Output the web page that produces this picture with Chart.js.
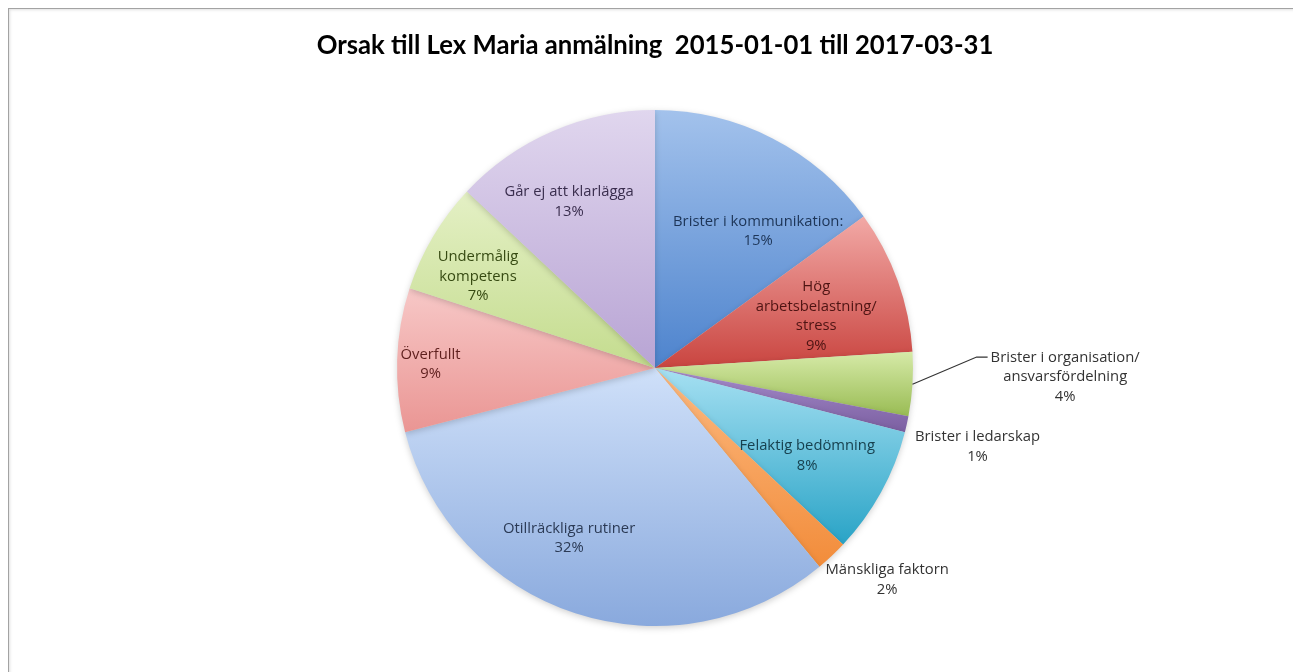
<!DOCTYPE html>
<html>
<head>
<meta charset="utf-8">
<script src="https://cdn.jsdelivr.net/npm/chart.js@4/dist/chart.umd.min.js"></script>
<style>
  html, body { margin: 0; padding: 0; background: #fff; overflow: hidden; }
  #frame {
    position: absolute; left: 8px; top: 8px; width: 1400px; height: 800px;
    border: 1px solid #a3a3a3;
    box-shadow: inset 1px 1px 3px rgba(0, 0, 0, 0.12);
  }
  #wrap { position: absolute; left: 0; top: 0; width: 1293px; height: 672px; }
</style>
</head>
<body>
<div id="frame"></div>
<div id="wrap"><canvas id="lexmaria" width="1293" height="672"></canvas></div>
<script>
const categories = [
  "Brister i kommunikation:",
  "Hög arbetsbelastning/ stress",
  "Brister i organisation/ ansvarsfördelning",
  "Brister i ledarskap",
  "Felaktig bedömning",
  "Mänskliga faktorn",
  "Otillräckliga rutiner",
  "Överfullt",
  "Undermålig kompetens",
  "Går ej att klarlägga"
];
const shares = [15, 9, 4, 1, 8, 2, 32, 9, 7, 13];

// label text split into lines as drawn
const labelLines = [
  ["Brister i kommunikation:"],
  ["Hög", "arbetsbelastning/", "stress"],
  ["Brister i organisation/", "ansvarsfördelning"],
  ["Brister i ledarskap"],
  ["Felaktig bedömning"],
  ["Mänskliga faktorn"],
  ["Otillräckliga rutiner"],
  ["Överfullt"],
  ["Undermålig", "kompetens"],
  ["Går ej att klarlägga"]
];

// gradient stops per slice: top (light) -> bottom (dark)
const lightColors = ["#a3c2ec", "#f2a9a6", "#d6eaa8", "#a68ccb", "#a6e0f2", "#fcb980", "#cfe0f9", "#f7c8c7", "#e4f0c5", "#e0d6ee"];
const darkColors  = ["#4d83cd", "#c9443f", "#98bb52", "#7a5ea0", "#28a3c6", "#f28c3a", "#89a9dd", "#ea9593", "#c4dc8e", "#b8a4d4"];
const textColors  = ["#1d3557", "#4e1413", "#333333", "#333333", "#17414f", "#333333", "#2b3a55", "#5e1f1d", "#364a12", "#3a2e4e"];

// label anchor relative to the pie centre, in units of the radius
const labelPos = [
  [0.40, -0.53], [0.625, -0.20], [1.59, 0.035], [1.25, 0.305], [0.59, 0.34],
  [0.90, 0.82], [-0.333, 0.66], [-0.87, -0.015], [-0.686, -0.355], [-0.333, -0.645]
];

function pieGeometry(chart) {
  const a = chart.chartArea;
  return {
    cx: (a.left + a.right) / 2,
    cy: (a.top + a.bottom) / 2,
    r: Math.min(a.right - a.left, a.bottom - a.top) / 2
  };
}

function sliceGradient(ctx) {
  const chart = ctx.chart;
  const i = ctx.dataIndex;
  if (!chart.chartArea) return darkColors[i];
  const g = pieGeometry(chart);
  const total = shares.reduce((s, v) => s + v, 0);
  let before = 0;
  for (let k = 0; k < i; k++) before += shares[k];
  const a0 = before / total * 2 * Math.PI;
  const a1 = (before + shares[i]) / total * 2 * Math.PI;
  const ys = [g.cy, g.cy - g.r * Math.cos(a0), g.cy - g.r * Math.cos(a1)];
  if (a0 <= 0) ys.push(g.cy - g.r);
  if (a0 <= Math.PI && a1 >= Math.PI) ys.push(g.cy + g.r);
  const y0 = Math.min(...ys), y1 = Math.max(...ys);
  const grad = chart.ctx.createLinearGradient(0, y0, 0, y1 + 1);
  grad.addColorStop(0, lightColors[i]);
  grad.addColorStop(1, darkColors[i]);
  return grad;
}

const pieShadow = {
  id: "pieShadow",
  beforeDatasetsDraw(chart) {
    const ctx = chart.ctx;
    ctx.save();
    ctx.shadowColor = "rgba(0,0,0,0.18)";
    ctx.shadowBlur = 6;
    ctx.shadowOffsetY = 2;
  },
  afterDatasetsDraw(chart) {
    chart.ctx.restore();
  }
};

const sliceLabels = {
  id: "sliceLabels",
  afterDraw(chart) {
    const ctx = chart.ctx;
    const g = pieGeometry(chart);
    const meta = chart.getDatasetMeta(0);
    ctx.save();
    ctx.font = "14.8px 'Open Sans'";
    ctx.textAlign = "center";
    ctx.textBaseline = "middle";
    labelLines.forEach((lines, i) => {
      const all = lines.concat([shares[i] + "%"]);
      const x = g.cx + labelPos[i][0] * g.r;
      const y = g.cy + labelPos[i][1] * g.r;
      const lh = 19.5;
      ctx.fillStyle = textColors[i];
      all.forEach((t, j) => {
        ctx.fillText(t, x, y + (j - (all.length - 1) / 2) * lh);
      });
    });
    // leader line for the organisation slice
    const arc = meta.data[2];
    const mid = (arc.startAngle + arc.endAngle) / 2;
    const px = arc.x + Math.cos(mid) * arc.outerRadius;
    const py = arc.y + Math.sin(mid) * arc.outerRadius;
    const lx = g.cx + labelPos[2][0] * g.r;
    const ly = g.cy + labelPos[2][1] * g.r - 20;
    const w = ctx.measureText(labelLines[2][0]).width;
    ctx.strokeStyle = "#333";
    ctx.lineWidth = 1.2;
    ctx.beginPath();
    ctx.moveTo(px, py);
    ctx.lineTo(lx - w / 2 - 14, ly);
    ctx.lineTo(lx - w / 2 - 3, ly);
    ctx.stroke();
    ctx.restore();
  }
};

new Chart(document.getElementById("lexmaria"), {
  type: "pie",
  data: {
    labels: categories,
    datasets: [
      {
        data: shares,
        backgroundColor: sliceGradient,
        borderWidth: 0
      }
    ]
  },
  options: {
    responsive: false,
    animation: false,
    layout: {
      padding: { left: 17, right: 0, top: 0, bottom: 46 }
    },
    plugins: {
      legend: { display: false },
      tooltip: { enabled: false },
      title: {
        display: true,
        text: "Orsak till Lex Maria anmälning  2015-01-01 till 2017-03-31",
        color: "#000",
        font: { family: "Lato", size: 25.7, weight: "bold" },
        padding: { top: 30, bottom: 49.2 }
      }
    }
  },
  plugins: [pieShadow, sliceLabels]
});
</script>
</body>
</html>
